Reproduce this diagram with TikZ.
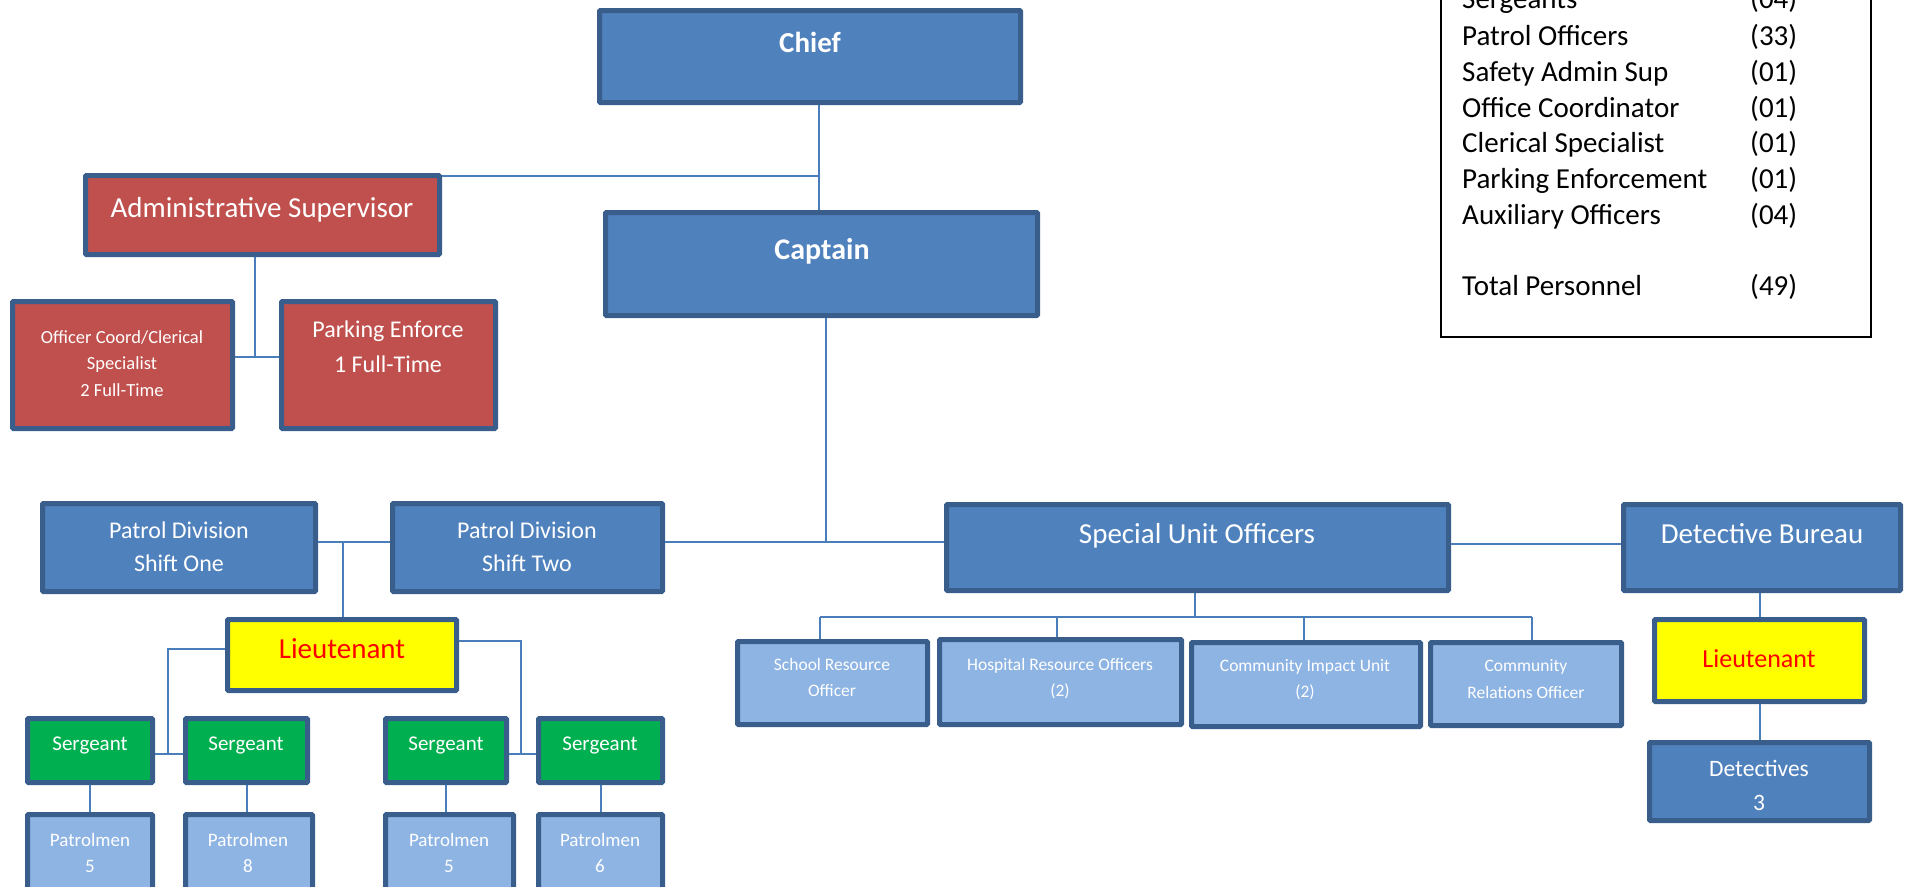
\documentclass[tikz,border=0pt]{standalone}
\usepackage{fontspec}
\setmainfont{Carlito}
\definecolor{bfill}{HTML}{4F81BD}
\definecolor{lfill}{HTML}{8EB4E3}
\definecolor{rfill}{HTML}{C0504D}
\definecolor{gfill}{HTML}{00B050}
\definecolor{yfill}{HTML}{FFFF00}
\definecolor{bord}{HTML}{3A5E8C}
\definecolor{linec}{HTML}{4A7EBB}
\definecolor{ltred}{HTML}{FF0000}
\newcommand\fsz[1]{\fontsize{#1}{#1}\selectfont}
\newcommand\obox[6]{\node[box,#6,minimum width={#4pt-#2pt-5pt},minimum height={#5pt-#3pt-5pt}] (#1) at ({(#2+#4)/2},{(#3+#5)/2}) {};}
\begin{document}
\begin{tikzpicture}[x=1pt,y=-1pt,
  box/.style={draw=bord,line width=5pt,rounded corners=1pt,inner sep=0pt},
  blue/.style={fill=bfill},
  light/.style={fill=lfill},
  redb/.style={fill=rfill},
  green/.style={fill=gfill},
  yellow/.style={fill=yfill},
  conn/.style={draw=linec,line width=2pt},
  txt/.style={anchor=base,inner sep=0pt,text=white},
  lgd/.style={anchor=base west,inner sep=0pt,text=black,font=\fsz{29}}]
\useasboundingbox (0,0) rectangle (1908,886);
\clip (0,0) rectangle (1908,886);

% boxes
\obox{chief}{597}{8}{1023}{105}{blue}
\obox{captain}{603}{210}{1040}{318}{blue}
\obox{admin}{83}{173}{442}{257}{redb}
\obox{offc}{10}{299}{235}{431}{redb}
\obox{park}{279}{299}{498}{431}{redb}
\obox{pd1}{40}{501}{318}{594}{blue}
\obox{pd2}{390}{501}{665}{594}{blue}
\obox{lt1}{225}{617}{459}{693}{yellow}
\obox{s1}{25}{716}{155}{785}{green}
\obox{s2}{183}{716}{310}{785}{green}
\obox{s3}{383}{716}{509}{785}{green}
\obox{s4}{536}{716}{665}{785}{green}
\obox{p1}{25}{812}{155}{900}{light}
\obox{p2}{183}{812}{315}{900}{light}
\obox{p3}{383}{812}{516}{900}{light}
\obox{p4}{536}{812}{665}{900}{light}
\obox{suo}{944}{502}{1451}{593}{blue}
\obox{sro}{735}{639}{930}{727}{light}
\obox{hro}{937}{637}{1184}{727}{light}
\obox{ciu}{1189}{640}{1423}{729}{light}
\obox{cro}{1428}{640}{1624}{728}{light}
\obox{db}{1621}{502}{1903}{593}{blue}
\obox{lt2}{1652}{617}{1867}{704}{yellow}
\obox{det}{1647}{740}{1872}{823}{blue}
\node[draw=black,line width=1.5pt,inner sep=0pt,minimum width=430pt,minimum height=357pt] (legend) at (1656,158.5) {};

% texts
\node[txt,font=\fsz{29}\bfseries] (chief-t) at (810,52) {Chief};
\node[txt,font=\fsz{30}\bfseries] (captain-t) at (822,259) {Captain};
\node[txt,font=\fsz{29}] (admin-t) at (262,217) {Administrative Supervisor};
\node[txt,font=\fsz{18.5}] (offc-t1) at (122,343) {Officer Coord/Clerical};
\node[txt,font=\fsz{18.5}] (offc-t2) at (122,369) {Specialist};
\node[txt,font=\fsz{18.5}] (offc-t3) at (122,396) {2 Full-Time};
\node[txt,font=\fsz{24}] (park-t1) at (388,337) {Parking Enforce};
\node[txt,font=\fsz{24}] (park-t2) at (388,372) {1 Full-Time};
\node[txt,font=\fsz{24}] (pd1-t1) at (179,538) {Patrol Division};
\node[txt,font=\fsz{24}] (pd1-t2) at (179,571) {Shift One};
\node[txt,font=\fsz{24}] (pd2-t1) at (527,538) {Patrol Division};
\node[txt,font=\fsz{24}] (pd2-t2) at (527,571) {Shift Two};
\node[txt,font=\fsz{29},text=ltred] (lt1-t) at (342,658) {Lieutenant};
\node[txt,font=\fsz{21}] (s1-t) at (90,750) {Sergeant};
\node[txt,font=\fsz{21}] (s2-t) at (246,750) {Sergeant};
\node[txt,font=\fsz{21}] (s3-t) at (446,750) {Sergeant};
\node[txt,font=\fsz{21}] (s4-t) at (600,750) {Sergeant};
\node[txt,font=\fsz{19}] (p1-t1) at (90,846) {Patrolmen};
\node[txt,font=\fsz{19}] (p1-t2) at (90,872) {5};
\node[txt,font=\fsz{19}] (p2-t1) at (248,846) {Patrolmen};
\node[txt,font=\fsz{19}] (p2-t2) at (248,872) {8};
\node[txt,font=\fsz{19}] (p3-t1) at (449,846) {Patrolmen};
\node[txt,font=\fsz{19}] (p3-t2) at (449,872) {5};
\node[txt,font=\fsz{19}] (p4-t1) at (600,846) {Patrolmen};
\node[txt,font=\fsz{19}] (p4-t2) at (600,872) {6};
\node[txt,font=\fsz{29}] (suo-t) at (1197,543) {Special Unit Officers};
\node[txt,font=\fsz{17.5}] (sro-t1) at (832,670) {School Resource};
\node[txt,font=\fsz{17.5}] (sro-t2) at (832,696) {Officer};
\node[txt,font=\fsz{17.5}] (hro-t1) at (1060,670) {Hospital Resource Officers};
\node[txt,font=\fsz{17.5}] (hro-t2) at (1060,696) {(2)};
\node[txt,font=\fsz{17.5}] (ciu-t1) at (1305,671) {Community Impact Unit};
\node[txt,font=\fsz{17.5}] (ciu-t2) at (1305,697) {(2)};
\node[txt,font=\fsz{17.5}] (cro-t1) at (1526,671) {Community};
\node[txt,font=\fsz{17.5}] (cro-t2) at (1526,698) {Relations Officer};
\node[txt,font=\fsz{29}] (db-t) at (1762,543) {Detective Bureau};
\node[txt,font=\fsz{26},text=ltred] (lt2-t) at (1759,667) {Lieutenant};
\node[txt,font=\fsz{23.5}] (det-t1) at (1759,776) {Detectives};
\node[txt,font=\fsz{23.5}] (det-t2) at (1759,810) {3};

% legend
\node[lgd] (lg1) at (1462,9) {Sergeants};
\node[lgd] (lg1n) at (1750,9) {(04)};
\node[lgd] (lg2) at (1462,45) {Patrol Officers};
\node[lgd] (lg2n) at (1750,45) {(33)};
\node[lgd] (lg3) at (1462,81) {Safety Admin Sup};
\node[lgd] (lg3n) at (1750,81) {(01)};
\node[lgd] (lg4) at (1462,117) {Office Coordinator};
\node[lgd] (lg4n) at (1750,117) {(01)};
\node[lgd] (lg5) at (1462,152) {Clerical Specialist};
\node[lgd] (lg5n) at (1750,152) {(01)};
\node[lgd] (lg6) at (1462,188) {Parking Enforcement};
\node[lgd] (lg6n) at (1750,188) {(01)};
\node[lgd] (lg7) at (1462,224) {Auxiliary Officers};
\node[lgd] (lg7n) at (1750,224) {(04)};
\node[lgd] (lg8) at (1462,295) {Total Personnel};
\node[lgd] (lg8n) at (1750,295) {(49)};

% connectors
\coordinate (j1) at (819,176);
\draw[conn] (chief.south -| j1) -- (captain.north -| j1);
\draw[conn] (admin.east |- j1) -- (j1);
\coordinate (j2) at (255,357);
\draw[conn] (admin.south -| j2) -- (j2);
\draw[conn] (offc.east |- j2) -- (park.west |- j2);
\coordinate (j3) at (826,542);
\draw[conn] (captain.south -| j3) -- (j3);
\draw[conn] (pd1.east |- j3) -- (pd2.west |- j3);
\draw[conn] (pd2.east |- j3) -- (suo.west |- j3);
\coordinate (j4) at (343,542);
\draw[conn] (j4) -- (lt1.north -| j4);
\coordinate (k1) at (168,649);
\coordinate (j5) at (168,754);
\draw[conn] (lt1.west |- k1) -- (k1) -- (j5);
\draw[conn] (s1.east |- j5) -- (s2.west |- j5);
\coordinate (k2) at (521,641);
\coordinate (j6) at (521,754);
\draw[conn] (lt1.east |- k2) -- (k2) -- (j6);
\draw[conn] (s3.east |- j6) -- (s4.west |- j6);
\draw[conn] (s1.south) -- (s1.south |- p1.north);
\draw[conn] (s2.south) -- (s2.south |- p2.north);
\draw[conn] (s3.south) -- (s3.south |- p3.north);
\draw[conn] (s4.south) -- (s4.south |- p4.north);
\coordinate (j8) at (1451,544);
\draw[conn] (suo.east |- j8) -- (db.west |- j8);
\coordinate (j7) at (1195,617);
\coordinate (d1) at (820,617);
\coordinate (d2) at (1057,617);
\coordinate (d3) at (1304,617);
\coordinate (d4) at (1532,617);
\draw[conn] (suo.south -| j7) -- (j7);
\draw[conn] (d1) -- (d4);
\draw[conn] (d1) -- (sro.north -| d1);
\draw[conn] (d2) -- (hro.north -| d2);
\draw[conn] (d3) -- (ciu.north -| d3);
\draw[conn] (d4) -- (cro.north -| d4);
\draw[conn] (lt2.north |- db.south) -- (lt2.north);
\draw[conn] (lt2.south) -- (lt2.south |- det.north);
\end{tikzpicture}
\end{document}
